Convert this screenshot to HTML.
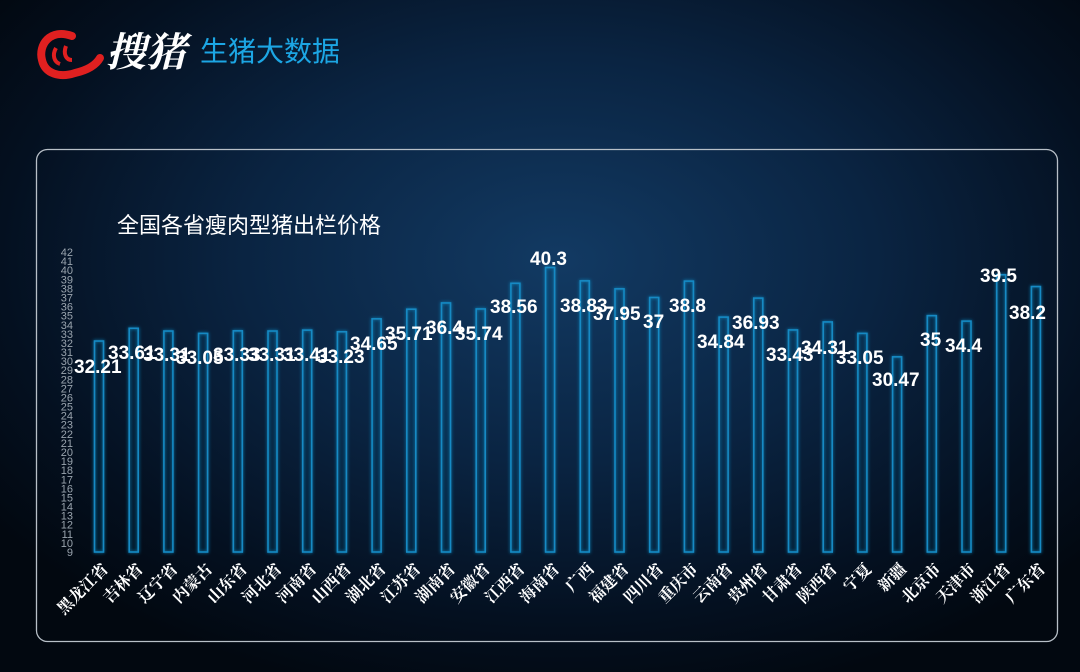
<!DOCTYPE html>
<html><head><meta charset="utf-8"><style>
html,body{margin:0;padding:0;width:1080px;height:672px;overflow:hidden;}
body{background:radial-gradient(ellipse 700px 450px at 560px 260px,#123a63 0%,#0a2442 45%,#041020 80%,#020810 100%);}
svg{position:absolute;left:0;top:0;}
</style></head><body>
<svg width="1080" height="672" viewBox="0 0 1080 672" xmlns="http://www.w3.org/2000/svg">
<defs>
<filter id="glow" x="-50%" y="-10%" width="200%" height="120%"><feGaussianBlur stdDeviation="1.5" result="b"/><feMerge><feMergeNode in="b"/><feMergeNode in="SourceGraphic"/></feMerge></filter>
</defs>
<path d="M72 36 C50 28 38 45 42 60 C45 74 60 78 75 73 C88 70 96 65 100 58" fill="none" stroke="#e02020" stroke-width="8" stroke-linecap="round"/>
<path d="M56 48 C52 55 54 62 60 64 M66 46 C63 54 66 60 72 60" fill="none" stroke="#e02020" stroke-width="4"/>
<text x="106" y="66" font-family="'Noto Serif CJK SC',serif" font-weight="bold" font-size="40" fill="#fff" font-style="italic">搜猪</text>
<text x="200" y="61" font-family="'Liberation Sans','Noto Sans CJK SC',sans-serif" font-size="28" fill="#1ca6e4">生猪大数据</text>
<rect x="36.5" y="149.5" width="1021" height="492" rx="11" fill="none" stroke="#b8c0c8" stroke-width="1.3"/>
<text x="117" y="233" font-family="'Liberation Sans','Noto Sans CJK SC',sans-serif" font-size="22" fill="#fff">全国各省瘦肉型猪出栏价格</text>
<g id="yt" font-family="'Liberation Sans',sans-serif" font-size="11" fill="#9aa4ae" text-anchor="end"></g>
<g id="bars" filter="url(#glow)"></g>
<g id="xl" font-family="'Noto Serif CJK SC',serif" font-weight="bold" font-size="16" fill="#fff" text-anchor="end"></g>
<g id="lb" font-family="'Liberation Sans',sans-serif" font-weight="bold" font-size="19" fill="#fff"></g>
</svg>
<script>
var ns="http://www.w3.org/2000/svg";
function el(p,t,a,txt){var e=document.createElementNS(ns,t);for(var k in a)e.setAttribute(k,a[k]);if(txt!=null)e.textContent=txt;document.getElementById(p).appendChild(e);}
function Y(v){return 552-(v-9)*9.09;}
for(var v=9;v<=42;v++)el('yt','text',{x:73,y:Y(v)+4},String(v));
var names=["黑龙江省","吉林省","辽宁省","内蒙古","山东省","河北省","河南省","山西省","湖北省","江苏省","湖南省","安徽省","江西省","海南省","广西","福建省","四川省","重庆市","云南省","贵州省","甘肃省","陕西省","宁夏","新疆","北京市","天津市","浙江省","广东省"];
var vals=[32.21,33.61,33.31,33.05,33.33,33.31,33.41,33.23,34.65,35.71,36.4,35.74,38.56,40.3,38.83,37.95,37,38.8,34.84,36.93,33.43,34.31,33.05,30.47,35,34.4,39.5,38.2];
var lx=[74,108,143,176,213,248,283,317,350,385,426,455,490,530,560,593,643,669,697,732,766,801,836,872,920,945,980,1009];
var ly=[366,352,354,357,354,354,354,356,343,333,327,333,306,258,305,313,321,305,341,322,354,347,357,379,339,345,275,312];
for(var i=0;i<28;i++){
 var cx=99+i*34.7,t=Y(vals[i]);
 el('bars','rect',{x:cx-4.5,y:t,width:9,height:552-t,fill:"rgba(20,110,170,0.08)",stroke:"#138ac4","stroke-width":1.6});
 el('xl','text',{transform:"translate("+(cx+10)+",570) rotate(-45)"},names[i]);
 el('lb','text',{x:lx[i],y:ly[i]+7},String(vals[i]));
}
</script>
</body></html>
